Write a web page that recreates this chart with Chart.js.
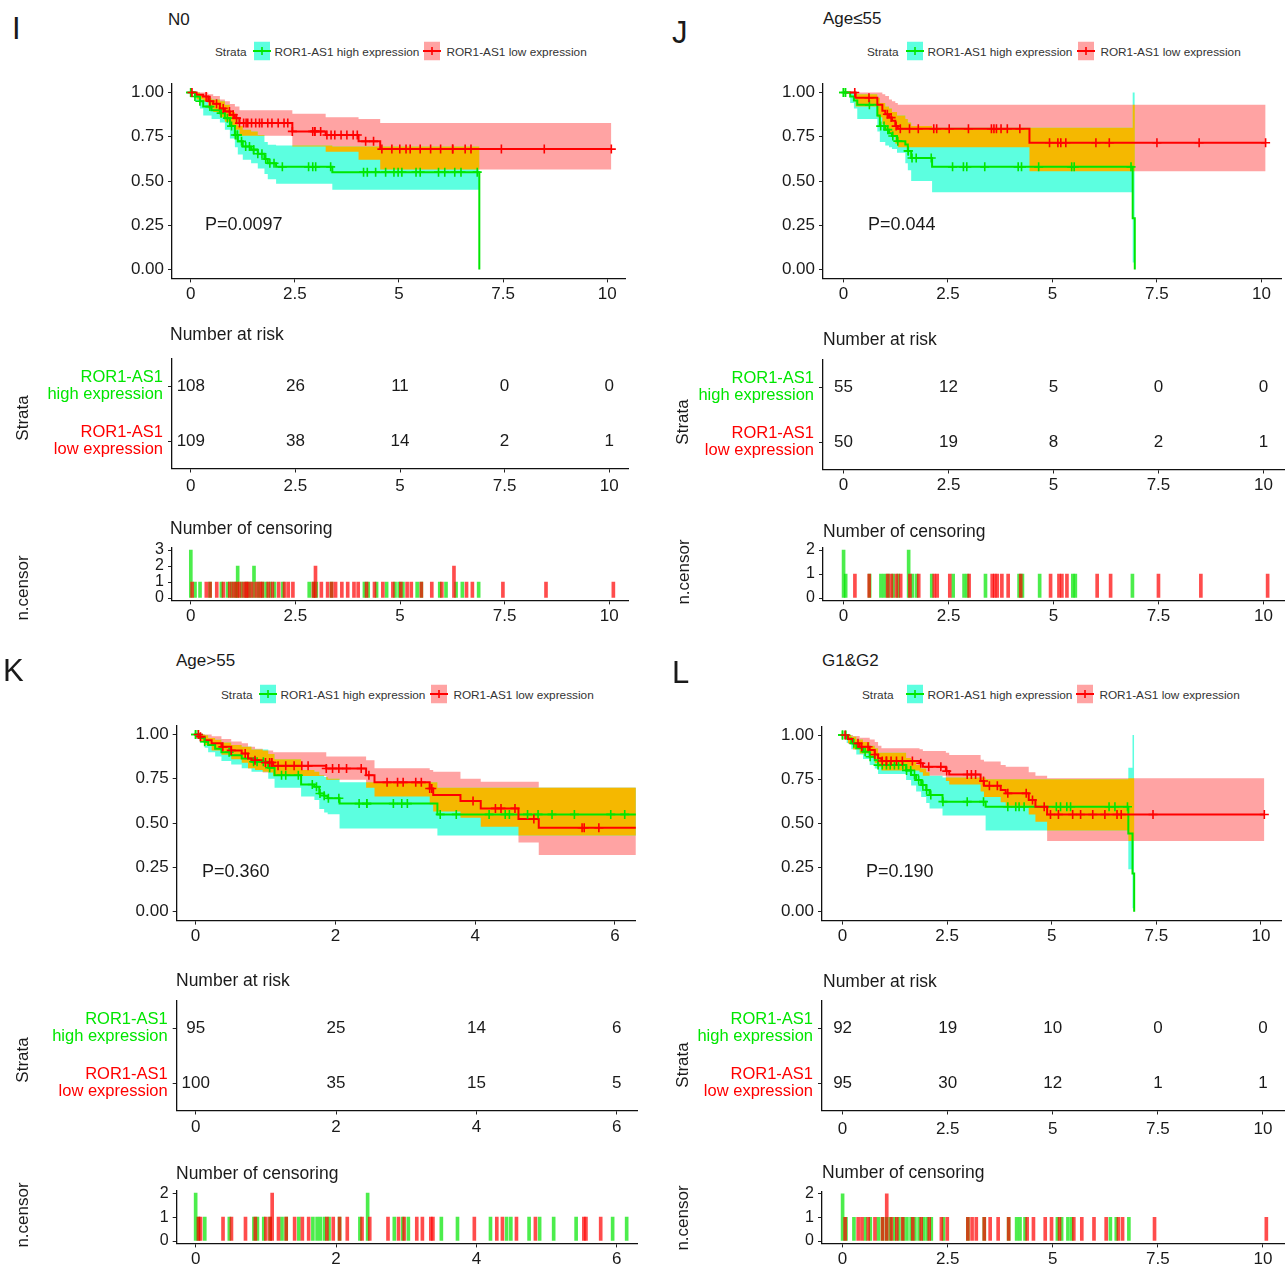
<!DOCTYPE html>
<html lang="en">
<head>
<meta charset="utf-8">
<title>ROR1-AS1 survival by subgroup</title>
<script src="https://cdn.jsdelivr.net/npm/chart.js@4.4.1/dist/chart.umd.min.js"></script>
<style>
  html, body { margin: 0; padding: 0; background: #fff; }
  #fig { position: relative; width: 1285px; height: 1264px; overflow: hidden;
         font-family: "Liberation Sans", Arial, sans-serif; color: #1a1a1a; }
  #fig canvas { position: absolute; }
  .txt { position: absolute; white-space: nowrap; line-height: 1; transform: translateY(-50%); }
  .rot { position: absolute; white-space: nowrap; line-height: 1; transform: translate(-50%, -50%) rotate(-90deg); }
  .legend { position: absolute; display: flex; align-items: center; white-space: nowrap;
            font-size: 11.8px; color: #333; transform: translateY(-50%); }
  .legend svg { display: block; }
</style>
</head>
<body>
<div id="fig"></div>
<script>
// 1️⃣ DATA

const survTicks = [0, 0.25, 0.5, 0.75, 1];
const yearTicks10 = [0, 2.5, 5, 7.5, 10];
const yearTicks6 = [0, 2, 4, 6];
const censorTicks3 = [0, 1, 2, 3];
const censorTicks2 = [0, 1, 2];

// I - N0
const iHighTime  = [0, 0.10, 0.22, 0.30, 0.50, 0.70, 0.82, 0.94, 1.06, 1.13, 1.25, 1.45, 1.61, 1.77, 1.85, 2.05, 3.40, 6.93];
const iHighSurv  = [1, 0.977, 0.95, 0.92, 0.90, 0.883, 0.855, 0.81, 0.76, 0.724, 0.695, 0.677, 0.654, 0.624, 0.60, 0.58, 0.55, 0];
const iHighUpper = [1, 1, 0.99, 0.97, 0.96, 0.95, 0.93, 0.89, 0.85, 0.81, 0.79, 0.78, 0.76, 0.72, 0.705, 0.70, 0.695, null];
const iHighLower = [1, 0.95, 0.91, 0.87, 0.85, 0.83, 0.79, 0.74, 0.69, 0.65, 0.62, 0.60, 0.57, 0.54, 0.51, 0.485, 0.45, null];
const iHighCensor = [0, 0, 0, 0.10, 0.22, 0.46, 0.73, 0.88, 0.98, 1.07, 1.12, 1.12, 1.22, 1.32, 1.41, 1.51, 1.51, 1.61, 1.71,
  1.80, 1.90, 2.00, 2.20, 2.83, 2.93, 3.00, 3.36, 4.15, 4.24, 4.44, 4.68, 4.88, 4.98, 5.07, 5.41, 5.51, 5.95, 6.10, 6.34, 6.49, 6.88];

const iLowTime  = [0, 0.14, 0.30, 0.42, 0.54, 0.70, 0.82, 0.94, 1.06, 1.17, 2.44, 3.24, 4.03, 4.55, 10.1];
const iLowSurv  = [1, 0.987, 0.977, 0.95, 0.936, 0.91, 0.893, 0.874, 0.855, 0.827, 0.78, 0.76, 0.724, 0.68, 0.68];
const iLowUpper = [1, 1, 1, 0.99, 0.98, 0.96, 0.95, 0.935, 0.92, 0.90, 0.88, 0.86, 0.85, 0.827, 0.827];
const iLowLower = [1, 0.96, 0.95, 0.91, 0.89, 0.86, 0.835, 0.81, 0.79, 0.755, 0.695, 0.665, 0.62, 0.565, 0.565];
const iLowCensor = [0.03, 0.37, 0.46, 0.62, 0.78, 0.93, 1.02, 1.10, 1.17, 1.27, 1.33, 1.37, 1.46, 1.56, 1.65, 1.71, 1.85, 1.95,
  2.10, 2.24, 2.33, 2.44, 2.93, 2.98, 2.98, 3.12, 3.27, 3.37, 3.46, 3.61, 3.75, 3.90, 4.00, 4.20, 4.39, 4.59, 4.83, 5.02,
  5.17, 5.27, 5.51, 5.76, 6.00, 6.29, 6.29, 6.59, 6.73, 7.46, 8.49, 10.1];

const iRiskHigh = [108, 26, 11, 0, 0];
const iRiskLow  = [109, 38, 14, 2, 1];

// J - Age<=55
const jHighTime  = [0, 0.16, 0.25, 0.33, 0.81, 0.87, 1.00, 1.09, 1.16, 1.28, 1.48, 1.54, 1.62, 2.12, 6.92, 6.97];
const jHighSurv  = [1, 0.977, 0.955, 0.93, 0.87, 0.81, 0.79, 0.77, 0.754, 0.725, 0.706, 0.67, 0.63, 0.58, 0.29, 0];
const jHighUpper = [1, 1, 1, 0.99, 0.97, 0.94, 0.92, 0.91, 0.89, 0.87, 0.85, 0.83, 0.81, 0.80, 1.0, null];
const jHighLower = [1, 0.94, 0.91, 0.85, 0.78, 0.72, 0.70, 0.69, 0.68, 0.66, 0.60, 0.56, 0.50, 0.436, 0.04, null];
const jHighCensor = [0, 0, 0.05, 0.62, 0.89, 0.97, 1.06, 1.18, 1.30, 1.55, 1.55, 1.64, 1.74, 2.10, 2.61, 2.87, 2.95, 3.38,
  4.18, 4.26, 4.67, 5.46, 5.52, 6.88];

const jLowTime  = [0, 0.29, 0.81, 0.93, 1.00, 1.09, 1.16, 1.24, 1.30, 4.45, 10.1];
const jLowSurv  = [1, 0.97, 0.93, 0.896, 0.877, 0.858, 0.84, 0.81, 0.795, 0.716, 0.716];
const jLowUpper = [1, 1, 1, 0.99, 0.98, 0.96, 0.95, 0.94, 0.93, 0.93, 0.93];
const jLowLower = [1, 0.92, 0.86, 0.82, 0.79, 0.77, 0.75, 0.71, 0.69, 0.555, 0.555];
const jLowCensor = [0.27, 0.61, 1.05, 1.14, 1.26, 1.36, 1.58, 1.79, 2.16, 2.23, 2.53, 2.99, 3.54, 3.60, 3.66, 3.77, 3.92,
  4.22, 4.93, 5.13, 5.20, 5.32, 6.04, 6.36, 7.50, 8.51, 10.1];

const jRiskHigh = [55, 12, 5, 0, 0];
const jRiskLow  = [50, 19, 8, 2, 1];

// K - Age>55
const kHighTime  = [0, 0.06, 0.13, 0.18, 0.28, 0.37, 0.51, 0.66, 0.80, 1.04, 1.13, 1.51, 1.70, 1.77, 1.84, 1.89, 2.06, 3.46, 6.3];
const kHighSurv  = [1, 0.98, 0.959, 0.94, 0.92, 0.90, 0.883, 0.865, 0.846, 0.812, 0.77, 0.718, 0.705, 0.667, 0.654, 0.64, 0.61, 0.549, 0.549];
const kHighUpper = [1, 1, 0.995, 0.98, 0.97, 0.955, 0.94, 0.93, 0.915, 0.89, 0.86, 0.80, 0.79, 0.77, 0.76, 0.75, 0.73, 0.70, 0.70];
const kHighLower = [1, 0.955, 0.925, 0.90, 0.875, 0.85, 0.83, 0.81, 0.79, 0.75, 0.70, 0.65, 0.63, 0.58, 0.56, 0.55, 0.47, 0.43, 0.43];
const kHighCensor = [0, 0, 0.04, 0.13, 0.48, 0.83, 0.88, 0.97, 1.06, 1.23, 1.29, 1.47, 1.67, 1.73, 1.78, 1.84, 1.90, 2.05,
  2.34, 2.45, 2.45, 2.83, 2.95, 3.03, 3.50, 3.73, 4.20, 4.43, 4.49, 4.75, 4.90, 5.10, 5.42, 5.94, 6.14];

const kLowTime  = [0, 0.06, 0.13, 0.23, 0.37, 0.51, 0.66, 0.75, 0.85, 0.96, 1.11, 1.87, 2.44, 2.56, 3.35, 3.40, 3.79, 4.08, 4.62, 4.91, 6.3];
const kLowSurv  = [1, 0.987, 0.968, 0.95, 0.93, 0.91, 0.893, 0.865, 0.855, 0.842, 0.823, 0.808, 0.77, 0.73, 0.695, 0.658, 0.624, 0.583, 0.523, 0.474, 0.474];
const kLowUpper = [1, 1, 1, 0.99, 0.975, 0.96, 0.95, 0.93, 0.92, 0.91, 0.90, 0.875, 0.855, 0.81, 0.80, 0.79, 0.75, 0.733, 0.733, 0.70, 0.70];
const kLowLower = [1, 0.96, 0.94, 0.91, 0.885, 0.86, 0.84, 0.81, 0.80, 0.785, 0.765, 0.745, 0.70, 0.65, 0.605, 0.565, 0.53, 0.48, 0.39, 0.32, 0.32];
const kLowCensor = [0.04, 0.07, 0.39, 0.51, 0.71, 0.85, 1.00, 1.06, 1.09, 1.09, 1.18, 1.29, 1.41, 1.52, 1.61, 1.87, 1.96,
  2.05, 2.16, 2.37, 2.48, 2.74, 2.89, 2.97, 3.15, 3.23, 3.35, 3.38, 3.97, 4.29, 4.37, 4.57, 4.84, 5.53, 5.56, 5.77];

const kRiskHigh = [95, 25, 14, 6];
const kRiskLow  = [100, 35, 15, 5];

// L - G1&G2
const lHighTime  = [0, 0.10, 0.21, 0.33, 0.49, 0.65, 0.77, 0.85, 1.52, 1.64, 1.76, 1.88, 2.00, 2.08, 2.39, 3.42, 6.83, 6.93, 6.97];
const lHighSurv  = [1, 0.98, 0.953, 0.925, 0.906, 0.877, 0.858, 0.83, 0.80, 0.774, 0.745, 0.717, 0.689, 0.66, 0.623, 0.594, 0.443, 0.217, 0];
const lHighUpper = [1, 1, 0.99, 0.975, 0.96, 0.94, 0.925, 0.90, 0.87, 0.85, 0.83, 0.81, 0.79, 0.77, 0.76, 0.75, 0.815, 1.0, null];
const lHighLower = [1, 0.955, 0.92, 0.89, 0.865, 0.83, 0.81, 0.78, 0.745, 0.715, 0.68, 0.65, 0.615, 0.585, 0.545, 0.46, 0.24, 0.02, null];
const lHighCensor = [0, 0, 0.08, 0.27, 0.54, 0.66, 0.85, 0.95, 1.05, 1.14, 1.24, 1.34, 1.44, 1.53, 1.63, 1.72, 1.82, 1.92,
  2.01, 2.11, 2.40, 2.98, 3.37, 3.95, 4.14, 4.22, 4.34, 5.11, 5.21, 5.36, 5.45, 6.37, 6.51, 6.81];

const lLowTime  = [0, 0.13, 0.25, 0.41, 0.65, 0.77, 0.85, 0.93, 1.84, 1.92, 2.47, 2.55, 3.30, 3.38, 3.78, 3.90, 4.45, 4.61, 4.89, 10.08];
const lLowSurv  = [1, 0.977, 0.953, 0.934, 0.915, 0.89, 0.868, 0.853, 0.84, 0.82, 0.796, 0.777, 0.74, 0.713, 0.689, 0.67, 0.632, 0.594, 0.55, 0.55];
const lLowUpper = [1, 1, 0.995, 0.985, 0.975, 0.96, 0.94, 0.925, 0.92, 0.91, 0.90, 0.887, 0.86, 0.85, 0.83, 0.82, 0.79, 0.77, 0.755, 0.755];
const lLowLower = [1, 0.95, 0.92, 0.895, 0.87, 0.84, 0.82, 0.80, 0.79, 0.77, 0.74, 0.72, 0.68, 0.65, 0.62, 0.60, 0.55, 0.51, 0.40, 0.40];
const lLowCensor = [0.06, 0.37, 0.46, 0.61, 0.77, 0.95, 1.05, 1.05, 1.16, 1.29, 1.43, 1.67, 1.87, 2.06, 2.35, 2.49, 2.98,
  3.08, 3.18, 3.37, 3.51, 3.70, 3.95, 4.39, 4.54, 4.82, 4.97, 5.16, 5.50, 5.69, 5.98, 6.27, 6.56, 6.66, 7.42, 10.08];

const lRiskHigh = [92, 19, 10, 0, 0];
const lRiskLow  = [95, 30, 12, 1, 1];


// 2️⃣ STYLE + LAYOUT

const FONT = '"Liberation Sans", Arial, sans-serif';
const GREEN = '#00E600';
const RED = '#FF0000';
const GREEN_BAND = '#5CFFE0';
const RED_BAND = '#FFA3A3';
const BOTH_BAND = '#F5B800';
const GREEN_BAR = 'rgba(0, 230, 0, 0.7)';
const RED_BAR = 'rgba(255, 0, 0, 0.7)';

// KM curves hold their value until the next time, then drop (Chart.js calls this 'before')
const STEP = 'before';

Chart.defaults.font.family = FONT;

const panels = [
  {
    letter: 'I', title: 'N0', pValue: 'P=0.0097',
    high: { time: iHighTime, surv: iHighSurv, upper: iHighUpper, lower: iHighLower, censor: iHighCensor },
    low: { time: iLowTime, surv: iLowSurv, upper: iLowUpper, lower: iLowLower, censor: iLowCensor },
    riskHigh: iRiskHigh, riskLow: iRiskLow, xTicks: yearTicks10, censorTicks: censorTicks3,
    left: 172, width: 456, xMin: -0.45, xMax: 10.45,
    kmTop: 83.6, kmH: 194.8, riskTop: 358.5, riskH: 110, riskPad: 4, censTop: 547.6, censH: 52.8,
    letterPos: [12, 28], titlePos: [168, 19], legendPos: [215, 51], legendGaps: [7, 4], pPos: [205, 224],
    riskTitlePos: [170, 335], censTitlePos: [170, 529], strataPos: [22, 418], nCensorPos: [22, 588]
  },
  {
    letter: 'J', title: 'Age≤55', pValue: 'P=0.044',
    high: { time: jHighTime, surv: jHighSurv, upper: jHighUpper, lower: jHighLower, censor: jHighCensor },
    low: { time: jLowTime, surv: jLowSurv, upper: jLowUpper, lower: jLowLower, censor: jLowCensor },
    riskHigh: jRiskHigh, riskLow: jRiskLow, xTicks: yearTicks10, censorTicks: censorTicks2,
    left: 823, width: 461, xMin: -0.49, xMax: 10.49,
    kmTop: 83.6, kmH: 194.8, riskTop: 359.5, riskH: 110, riskPad: 2, censTop: 547.6, censH: 52.8,
    letterPos: [672, 32], titlePos: [823, 18], legendPos: [867, 51], legendGaps: [8, 5], pPos: [868, 224],
    riskTitlePos: [823, 340], censTitlePos: [823, 532], strataPos: [682, 422], nCensorPos: [683, 572]
  },
  {
    letter: 'K', title: 'Age>55', pValue: 'P=0.360',
    high: { time: kHighTime, surv: kHighSurv, upper: kHighUpper, lower: kHighLower, censor: kHighCensor },
    low: { time: kLowTime, surv: kLowSurv, upper: kLowUpper, lower: kLowLower, censor: kLowCensor },
    riskHigh: kRiskHigh, riskLow: kRiskLow, xTicks: yearTicks6, censorTicks: censorTicks2,
    left: 176.7, width: 461.2, xMin: -0.27, xMax: 6.3,
    kmTop: 725.6, kmH: 195, riskTop: 1000.5, riskH: 110, riskPad: 3, censTop: 1190.8, censH: 52.6,
    letterPos: [3, 670], titlePos: [176, 660], legendPos: [221, 694], legendGaps: [7, 5], pPos: [202, 871],
    riskTitlePos: [176, 981], censTitlePos: [176, 1174], strataPos: [22, 1060], nCensorPos: [22, 1215]
  },
  {
    letter: 'L', title: 'G1&G2', pValue: 'P=0.190',
    high: { time: lHighTime, surv: lHighSurv, upper: lHighUpper, lower: lHighLower, censor: lHighCensor },
    low: { time: lLowTime, surv: lLowSurv, upper: lLowUpper, lower: lLowLower, censor: lLowCensor },
    riskHigh: lRiskHigh, riskLow: lRiskLow, xTicks: yearTicks10, censorTicks: censorTicks2,
    left: 822, width: 462, xMin: -0.49, xMax: 10.5,
    kmTop: 726.2, kmH: 194.4, riskTop: 1000.5, riskH: 110, riskPad: 5, censTop: 1191.4, censH: 52,
    letterPos: [672, 672], titlePos: [822, 660], legendPos: [862, 694], legendGaps: [13, 4], pPos: [866, 871],
    riskTitlePos: [823, 982], censTitlePos: [822, 1173], strataPos: [682, 1065], nCensorPos: [682, 1218]
  }
];

const fig = document.getElementById('fig');


// 3️⃣ HELPERS

// value of a step function at t (null past the last time or where the value is missing)
function stepAt(times, vals, t) {
  if (t < times[0] || t > times[times.length - 1]) return null;
  let v = null;
  for (let i = 0; i < times.length; i++) {
    if (times[i] <= t) v = vals[i];
    else break;
  }
  return v;
}

function bandPoints(times, vals) {
  let last = vals[0];
  return times.map((t, i) => {
    const v = vals[i] == null ? last : vals[i];
    last = v;
    return { x: t, y: v };
  });
}

// region where both confidence bands overlap
function overlapBand(a, b) {
  const ts = [...new Set([...a.time, ...b.time])].sort((p, q) => p - q);
  const lo = [], hi = [];
  ts.forEach(t => {
    const aL = stepAt(a.time, a.lower, t), aU = stepAt(a.time, a.upper, t);
    const bL = stepAt(b.time, b.lower, t), bU = stepAt(b.time, b.upper, t);
    let l = 0, u = 0;
    if (aL != null && aU != null && bL != null && bU != null) {
      l = Math.max(aL, bL);
      u = Math.max(l, Math.min(aU, bU));
    }
    lo.push({ x: t, y: l });
    hi.push({ x: t, y: u });
  });
  return { lo, hi };
}

function censorCounts(times) {
  const m = new Map();
  times.forEach(t => m.set(t, (m.get(t) || 0) + 1));
  return [...m].map(([x, y]) => ({ x, y }));
}

function makeCanvas(areaLeft, areaTop, areaW, areaH, yW, xH, padTop, padRight) {
  const c = document.createElement('canvas');
  const left = Math.round(areaLeft - yW);
  const top = Math.round(areaTop - padTop);
  c.width = Math.round(areaLeft + areaW + padRight) - left;
  c.height = Math.round(areaTop + areaH + xH) - top;
  c.style.left = left + 'px';
  c.style.top = top + 'px';
  fig.appendChild(c);
  // exact box sizes so the plotting area lands where it should
  return {
    canvas: c,
    yW: areaLeft - left,
    padTop: areaTop - top,
    padRight: c.width - (areaLeft - left) - areaW,
    xH: c.height - (areaTop - top) - areaH
  };
}

function baseOptions(box) {
  return {
    responsive: false,
    animation: false,
    events: [],
    layout: { padding: { top: box.padTop, right: box.padRight, bottom: 0, left: 0 } },
    plugins: { legend: { display: false }, tooltip: { enabled: false } }
  };
}

function axisX(p, box, pad) {
  return {
    type: 'linear', min: p.xMin, max: p.xMax, offset: false,
    afterBuildTicks: s => { s.ticks = p.xTicks.map(v => ({ value: v })); },
    afterFit: s => { s.height = box.xH; },
    border: { display: true, color: '#111', width: 1.3 },
    grid: { display: true, drawOnChartArea: false, drawTicks: true, tickLength: 4, tickColor: '#222', offset: false },
    ticks: {
      autoSkip: false, maxRotation: 0, padding: pad, color: '#1a1a1a',
      font: { size: 17 }, callback: v => String(v)
    }
  };
}

function axisY(min, max, ticks, box, size, fmt) {
  return {
    type: 'linear', min, max,
    afterBuildTicks: s => { s.ticks = ticks.map(v => ({ value: v })); },
    afterFit: s => { s.width = box.yW; },
    border: { display: true, color: '#111', width: 1.3 },
    grid: { display: true, drawOnChartArea: false, drawTicks: true, tickLength: 4, tickColor: '#222' },
    ticks: { autoSkip: false, padding: 4, color: '#1a1a1a', font: { size }, callback: fmt }
  };
}

function text(str, x, y, size, cls) {
  const el = document.createElement('div');
  el.className = cls || 'txt';
  el.textContent = str;
  el.style.left = x + 'px';
  el.style.top = y + 'px';
  el.style.fontSize = size + 'px';
  fig.appendChild(el);
  return el;
}

function swatch(fill, line, gap) {
  return `<svg width="18" height="19" style="margin-left:${gap}px">` +
    `<rect x="1" y="0" width="16" height="19" fill="${fill}"/>` +
    `<line x1="0" y1="9.5" x2="18" y2="9.5" stroke="${line}" stroke-width="2"/>` +
    `<line x1="9" y1="5.5" x2="9" y2="13.5" stroke="${line}" stroke-width="1.6"/></svg>`;
}

function legend(p) {
  const box = document.createElement('div');
  box.className = 'legend';
  box.style.left = p.legendPos[0] + 'px';
  box.style.top = p.legendPos[1] + 'px';
  box.innerHTML = '<span>Strata</span>' +
    swatch(GREEN_BAND, GREEN, p.legendGaps[0]) +
    '<span style="margin-left:3px">ROR1-AS1 high expression</span>' +
    swatch(RED_BAND, RED, p.legendGaps[1]) +
    '<span style="margin-left:5px">ROR1-AS1 low expression</span>';
  fig.appendChild(box);
}

// numbers at risk are written at each point of the table datasets
const riskNumbers = {
  id: 'riskNumbers',
  afterDatasetsDraw(chart) {
    const ctx = chart.ctx;
    ctx.save();
    ctx.font = `17px ${FONT}`;
    ctx.fillStyle = '#1a1a1a';
    ctx.textAlign = 'center';
    ctx.textBaseline = 'middle';
    chart.data.datasets.forEach((ds, i) => {
      chart.getDatasetMeta(i).data.forEach((el, j) => {
        ctx.fillText(String(ds.data[j].n), el.x, el.y);
      });
    });
    ctx.restore();
  }
};


// 4️⃣ CHARTS

function band(times, vals, fill, color, order) {
  return {
    data: bandPoints(times, vals), stepped: STEP, fill,
    backgroundColor: color || 'transparent', borderColor: 'transparent', borderWidth: 0,
    pointRadius: 0, order
  };
}

function curve(g, color, order) {
  return {
    data: g.time.map((t, i) => ({ x: t, y: g.surv[i] })),
    stepped: STEP, fill: false, borderColor: color, borderWidth: 2,
    pointRadius: 0, order
  };
}

function marks(g, color, order) {
  const pts = g.censor
    .map(t => ({ x: t, y: stepAt(g.time, g.surv, t) }))
    .filter(pt => pt.y != null);
  return {
    data: pts, showLine: false, fill: false,
    pointStyle: 'cross', pointRadius: 4.5, pointBorderWidth: 1.6,
    pointBorderColor: color, borderColor: color, order
  };
}

function survivalChart(p) {
  const box = makeCanvas(p.left, p.kmTop, p.width, p.kmH, 70, 32, 16, 4);
  const ov = overlapBand(p.high, p.low);
  new Chart(box.canvas, {
    type: 'line',
    data: {
      datasets: [
        band(p.low.time, p.low.lower, false, null, 10),
        band(p.low.time, p.low.upper, '-1', RED_BAND, 10),
        band(p.high.time, p.high.lower, false, null, 9),
        band(p.high.time, p.high.upper, '-1', GREEN_BAND, 9),
        { data: ov.lo, stepped: STEP, fill: false, borderColor: 'transparent', borderWidth: 0, pointRadius: 0, order: 8 },
        { data: ov.hi, stepped: STEP, fill: '-1', backgroundColor: BOTH_BAND, borderColor: 'transparent', borderWidth: 0, pointRadius: 0, order: 8 },
        curve(p.high, GREEN, 3),
        curve(p.low, RED, 2),
        marks(p.high, GREEN, 1),
        marks(p.low, RED, 0)
      ]
    },
    options: {
      ...baseOptions(box),
      scales: {
        x: axisX(p, box, 2),
        y: axisY(-0.05, 1.05, survTicks, box, 17, v => Number(v).toFixed(2))
      }
    }
  });
}

function riskTable(p) {
  const box = makeCanvas(p.left, p.riskTop, p.width, p.riskH, 160, 32, 26, 4);
  const rowLabels = { 1: ['ROR1-AS1', 'high expression'], 2: ['ROR1-AS1', 'low expression'] };
  new Chart(box.canvas, {
    type: 'scatter',
    data: {
      datasets: [
        { data: p.xTicks.map((t, i) => ({ x: t, y: 1, n: p.riskHigh[i] })), pointRadius: 0 },
        { data: p.xTicks.map((t, i) => ({ x: t, y: 2, n: p.riskLow[i] })), pointRadius: 0 }
      ]
    },
    options: {
      ...baseOptions(box),
      scales: {
        x: axisX(p, box, p.riskPad),
        y: {
          ...axisY(0.5, 2.5, [1, 2], box, 16.5, v => rowLabels[v]),
          reverse: true,
          ticks: {
            autoSkip: false, padding: 5,
            font: { size: 16.5, lineHeight: 1.0 },
            color: c => (c.tick && c.tick.value === 1 ? GREEN : RED),
            callback: v => rowLabels[v]
          }
        }
      }
    },
    plugins: [riskNumbers]
  });
}

function censorPlot(p) {
  const box = makeCanvas(p.left, p.censTop, p.width, p.censH, 40, 28, 14, 4);
  const top = p.censorTicks[p.censorTicks.length - 1];
  new Chart(box.canvas, {
    type: 'bar',
    data: {
      datasets: [
        { data: censorCounts(p.high.censor), backgroundColor: GREEN_BAR, barThickness: 3, grouped: false, order: 2 },
        { data: censorCounts(p.low.censor), backgroundColor: RED_BAR, barThickness: 3, grouped: false, order: 1 }
      ]
    },
    options: {
      ...baseOptions(box),
      scales: {
        x: axisX(p, box, 2),
        y: axisY(-0.05 * top, 1.05 * top, p.censorTicks, box, 16, v => String(v))
      }
    }
  });
}


// 5️⃣ DRAW
panels.forEach(p => {
  survivalChart(p);
  riskTable(p);
  censorPlot(p);

  text(p.letter, p.letterPos[0], p.letterPos[1], 31);
  text(p.title, p.titlePos[0], p.titlePos[1], 17);
  legend(p);
  text(p.pValue, p.pPos[0], p.pPos[1], 18);
  text('Number at risk', p.riskTitlePos[0], p.riskTitlePos[1], 17.5);
  text('Number of censoring', p.censTitlePos[0], p.censTitlePos[1], 17.5);
  text('Strata', p.strataPos[0], p.strataPos[1], 17, 'rot');
  text('n.censor', p.nCensorPos[0], p.nCensorPos[1], 17, 'rot');
});
</script>
</body>
</html>
